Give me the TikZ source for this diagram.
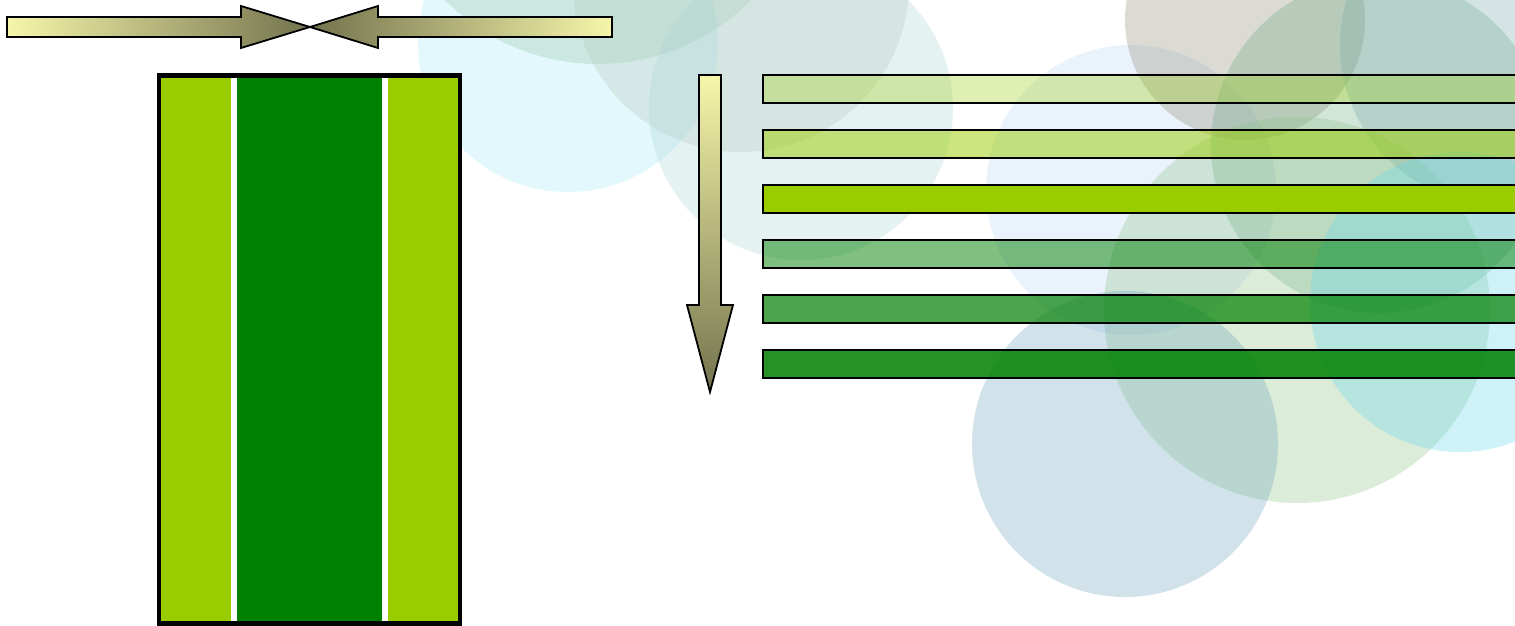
\documentclass[tikz,border=0pt]{standalone}
\definecolor{lime}{RGB}{154,205,0}
\definecolor{leaf}{RGB}{0,128,0}
\definecolor{arrowlight}{RGB}{246,246,170}
\definecolor{arrowdark}{RGB}{115,115,78}
% translucent background discs
\definecolor{discCyanL}{RGB}{160,232,248}
\definecolor{discMoss}{RGB}{147,197,164}
\definecolor{discSage}{RGB}{180,200,183}
\definecolor{discMist}{RGB}{172,212,212}
\definecolor{discSky}{RGB}{188,215,248}
\definecolor{discStone}{RGB}{138,138,112}
\definecolor{discFern}{RGB}{106,169,132}
\definecolor{discTeal}{RGB}{115,168,168}
\definecolor{discMint}{RGB}{138,195,132}
\definecolor{discCyanR}{RGB}{98,215,238}
\definecolor{discSteel}{RGB}{105,162,188}
\tikzset{
  disc/.style={fill=#1, fill opacity=0.3, draw=none},
  band/.style 2 args={fill=#1, fill opacity=#2, draw=black, line width=1.6pt},
  fatarrow/.style={draw=black, line width=1.8pt, line join=miter},
}
\begin{document}
\begin{tikzpicture}[x=1pt,y=-1pt]
\clip (0,0) rectangle (1515,626);
\fill[white] (0,0) rectangle (1515,626);

% background discs
\fill[disc=discCyanL] (568,42) circle[radius=150];
\fill[disc=discMoss] (598,-151) circle[radius=215];
\fill[disc=discSage] (741,-16) circle[radius=168];
\fill[disc=discMist] (801,108) circle[radius=152];
\fill[disc=discSky] (1131,190) circle[radius=145];
\fill[disc=discStone] (1245,20) circle[radius=120];
\fill[disc=discFern] (1379,145) circle[radius=168];
\fill[disc=discTeal] (1500,45) circle[radius=160];
\fill[disc=discMint] (1297,310) circle[radius=193];
\fill[disc=discCyanR] (1460,302) circle[radius=150];
\fill[disc=discSteel] (1125,444) circle[radius=153];

% two arrows pushing towards each other
\shadedraw[fatarrow, left color=arrowlight, right color=arrowdark]
  (7,17) -- (241,17) -- (241,6) -- (310,27) -- (241,48) -- (241,37) -- (7,37) -- cycle;
\shadedraw[fatarrow, left color=arrowdark, right color=arrowlight]
  (612,17) -- (378,17) -- (378,6) -- (310,27) -- (378,48) -- (378,37) -- (612,37) -- cycle;

% layered block
\fill[lime] (159,75) rectangle (460,624);
\fill[white] (231,75) rectangle (237,624);
\fill[leaf] (237,75) rectangle (382,624);
\fill[white] (382,75) rectangle (388,624);
\draw[black, line width=4.5pt] (159,75.5) rectangle (460,623.5);

% downward arrow
\shadedraw[fatarrow, top color=arrowlight, bottom color=arrowdark]
  (699,75) -- (721,75) -- (721,305) -- (733,305) -- (710,392) -- (687,305) -- (699,305) -- cycle;

% stacked bands
\draw[band={lime}{0.3}]  (763,75)  rectangle (1530,103);
\draw[band={lime}{0.5}]  (763,130) rectangle (1530,158);
\draw[band={lime}{1}]    (763,185) rectangle (1530,213);
\draw[band={leaf}{0.5}]  (763,240) rectangle (1530,268);
\draw[band={leaf}{0.7}]  (763,295) rectangle (1530,323);
\draw[band={leaf}{0.85}] (763,350) rectangle (1530,378);
\end{tikzpicture}
\end{document}
